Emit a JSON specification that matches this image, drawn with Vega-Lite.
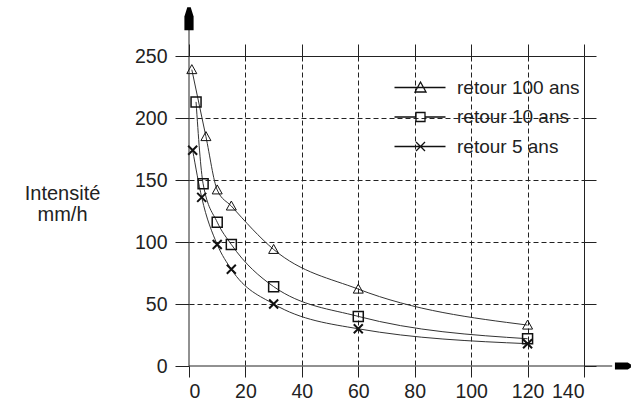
{
  "$schema": "https://vega.github.io/schema/vega-lite/v6.json",
  "width": 395,
  "height": 310,
  "autosize": {"type": "none"},
  "padding": {"left": 189, "top": 56, "right": 47, "bottom": 34},
  "background": "white",
  "config": {
    "view": {"stroke": null},
    "font": "Liberation Sans",
    "axis": {"labelFont": "Liberation Sans", "labelFontSize": 19.5, "labelColor": "#222", "tickColor": "#222", "domainColor": "#222", "tickWidth": 1, "domainWidth": 1}
  },
  "datasets": {
    "mesures": [
      {"serie": "retour 100 ans", "t": 1, "i": 239},
      {"serie": "retour 100 ans", "t": 6, "i": 185},
      {"serie": "retour 100 ans", "t": 10, "i": 142},
      {"serie": "retour 100 ans", "t": 15, "i": 129},
      {"serie": "retour 100 ans", "t": 30, "i": 94},
      {"serie": "retour 100 ans", "t": 60, "i": 62},
      {"serie": "retour 100 ans", "t": 120, "i": 33},
      {"serie": "retour 10 ans", "t": 2.5, "i": 213},
      {"serie": "retour 10 ans", "t": 5, "i": 147},
      {"serie": "retour 10 ans", "t": 10, "i": 116},
      {"serie": "retour 10 ans", "t": 15, "i": 98},
      {"serie": "retour 10 ans", "t": 30, "i": 64},
      {"serie": "retour 10 ans", "t": 60, "i": 40},
      {"serie": "retour 10 ans", "t": 120, "i": 22},
      {"serie": "retour 5 ans", "t": 1.3, "i": 174},
      {"serie": "retour 5 ans", "t": 4.5, "i": 136},
      {"serie": "retour 5 ans", "t": 10, "i": 98},
      {"serie": "retour 5 ans", "t": 15, "i": 78},
      {"serie": "retour 5 ans", "t": 30, "i": 50},
      {"serie": "retour 5 ans", "t": 60, "i": 30},
      {"serie": "retour 5 ans", "t": 120, "i": 18}
    ]
  },
  "layer": [
    {
      "data": {"name": "mesures"},
      "mark": {"type": "line", "interpolate": "monotone", "stroke": "#333", "strokeWidth": 1},
      "encoding": {
        "x": {"field": "t", "type": "quantitative", "scale": {"domain": [0, 140], "nice": false, "zero": false},
          "axis": {"orient": "top", "values": [0, 20, 40, 60, 80, 100, 120, 140], "labels": false, "ticks": true, "tickSize": 12, "domain": true, "grid": false, "title": null}},
        "y": {"field": "i", "type": "quantitative", "scale": {"domain": [0, 250], "nice": false, "zero": false},
          "axis": {"orient": "right", "values": [0, 50, 100, 150, 200, 250], "labels": false, "ticks": true, "tickSize": 12, "domain": true, "grid": false, "title": null}},
        "detail": {"field": "serie", "type": "nominal"}
      }
    },
    {
      "data": {"name": "mesures"},
      "mark": {"type": "point", "filled": false, "color": "#111", "size": 100, "opacity": 1},
      "encoding": {
        "x": {"field": "t", "type": "quantitative", "scale": {"domain": [0, 140], "nice": false, "zero": false},
          "axis": {"orient": "bottom", "values": [0, 20, 40, 60, 80, 100, 120, 140], "tickSize": 11, "labelPadding": 5, "domain": false, "grid": true, "gridDash": [5, 3], "gridColor": "#222", "gridWidth": 1,
            "gridOpacity": {"condition": {"test": "datum.value == 0 || datum.value == 140", "value": 0}, "value": 1}, "title": null}},
        "y": {"field": "i", "type": "quantitative", "scale": {"domain": [0, 250], "nice": false, "zero": false},
          "axis": {"orient": "left", "values": [0, 50, 100, 150, 200, 250], "tickSize": 14, "labelPadding": 8, "domain": false, "grid": true, "gridDash": [5, 3], "gridColor": "#222", "gridWidth": 1,
            "gridOpacity": {"condition": {"test": "datum.value == 0 || datum.value == 250", "value": 0}, "value": 1},
            "title": ["Intensité", "mm/h"], "titleAngle": 0, "titleX": -127, "titleY": 143, "titleAlign": "center", "titleBaseline": "alphabetic", "titleFontSize": 20, "titleFontWeight": "normal", "titleLineHeight": 21, "titleColor": "#222", "titleFont": "Liberation Sans"}},
        "shape": {"field": "serie", "type": "nominal",
          "scale": {"domain": ["retour 100 ans", "retour 10 ans", "retour 5 ans"], "range": ["M0,-1L1,0.8L-1,0.8Z", "square", "M-0.9,-0.9L0.9,0.9M0.9,-0.9L-0.9,0.9"]},
          "legend": null},
        "strokeWidth": {"field": "serie", "type": "nominal", "scale": {"domain": ["retour 100 ans", "retour 10 ans", "retour 5 ans"], "range": [1, 2, 2]}, "legend": null}
      }
    },
    {
      "data": {"name": "mesures"},
      "mark": {"type": "point", "filled": false, "color": "#111", "size": 0, "opacity": 1, "strokeWidth": 1.3},
      "encoding": {
        "x": {"field": "t", "type": "quantitative", "scale": {"domain": [0, 140], "nice": false, "zero": false}, "axis": null},
        "y": {"field": "i", "type": "quantitative", "scale": {"domain": [0, 250], "nice": false, "zero": false}, "axis": null},
        "shape": {"field": "serie", "type": "nominal",
          "scale": {"domain": ["retour 100 ans", "retour 10 ans", "retour 5 ans"], "range": ["M-5.2,0L5,0M0,-1.1L1.1,0.9L-1.1,0.9Z", "M-5.2,0L-0.9,0M0.9,0L5,0M-0.9,-0.9L0.9,-0.9L0.9,0.9L-0.9,0.9Z", "M-5.2,0L5,0M-0.9,-0.9L0.9,0.9M0.9,-0.9L-0.9,0.9"]},
          "legend": {"orient": "none", "legendX": 222, "legendY": 22, "title": null, "labelFontSize": 19, "labelFont": "Liberation Sans", "labelColor": "#222", "symbolSize": 100, "labelOffset": 27, "rowPadding": 9.5, "padding": 0, "symbolStrokeColor": "#111", "symbolStrokeWidth": 1.3}}
      }
    },
    {
      "data": {"values": [{}]},
      "mark": {"type": "rule", "color": "#222", "strokeWidth": 1},
      "encoding": {
        "x": {"datum": 0, "type": "quantitative", "scale": {"domain": [0, 140], "nice": false, "zero": false}, "axis": null},
        "y": {"datum": 0, "type": "quantitative", "scale": {"domain": [0, 250], "nice": false, "zero": false}, "axis": null},
        "y2": {"datum": 271}
      }
    },
    {
      "data": {"values": [{}]},
      "mark": {"type": "rule", "color": "#222", "strokeWidth": 1},
      "encoding": {
        "x": {"datum": 0, "type": "quantitative", "scale": {"domain": [0, 140], "nice": false, "zero": false}, "axis": null},
        "x2": {"datum": 150},
        "y": {"datum": 0, "type": "quantitative", "scale": {"domain": [0, 250], "nice": false, "zero": false}, "axis": null}
      }
    },
    {
      "data": {"values": [{}]},
      "mark": {"type": "point", "filled": true, "color": "#000", "opacity": 1, "size": 529, "shape": "M-0.15,-1L0.15,-1L0.4,-0.2L0.4,1L-0.4,1L-0.4,-0.2Z"},
      "encoding": {
        "x": {"datum": 0, "type": "quantitative", "scale": {"domain": [0, 140], "nice": false, "zero": false}, "axis": null},
        "y": {"datum": 280, "type": "quantitative", "scale": {"domain": [0, 250], "nice": false, "zero": false}, "axis": null}
      }
    },
    {
      "data": {"values": [{}]},
      "mark": {"type": "point", "filled": true, "color": "#000", "opacity": 1, "size": 256, "shape": "M-1,-0.45L0.6,-0.45L1,-0.2L1,0.2L0.6,0.45L-1,0.45Z"},
      "encoding": {
        "x": {"datum": 153.8, "type": "quantitative", "scale": {"domain": [0, 140], "nice": false, "zero": false}, "axis": null},
        "y": {"datum": 0, "type": "quantitative", "scale": {"domain": [0, 250], "nice": false, "zero": false}, "axis": null}
      }
    }
  ],
  "resolve": {"axis": {"x": "independent", "y": "independent"}, "scale": {"shape": "independent", "strokeWidth": "independent"}}
}
